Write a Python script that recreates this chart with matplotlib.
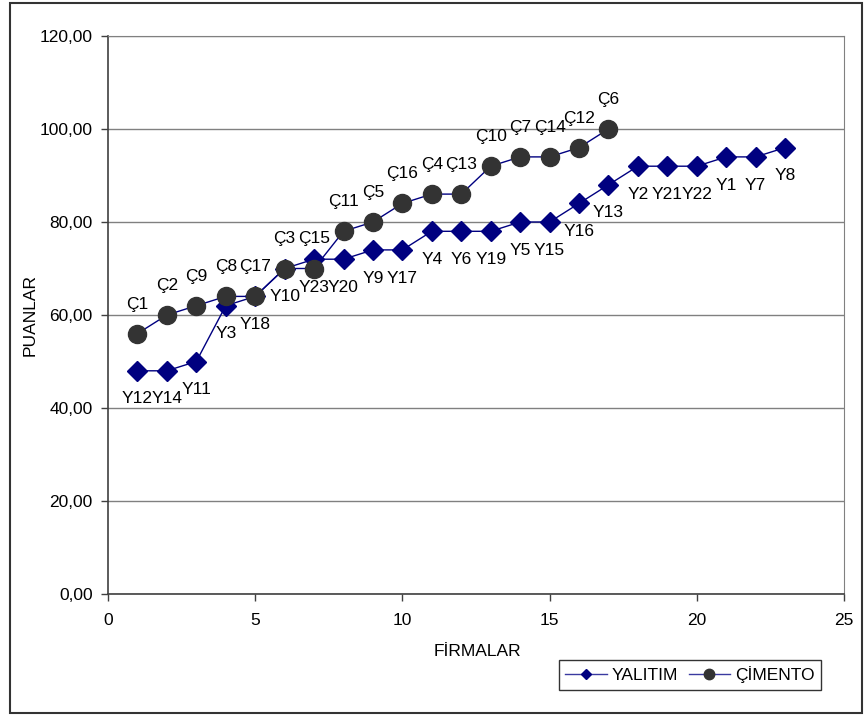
import matplotlib
matplotlib.use("Agg")
import matplotlib.pyplot as plt
from matplotlib.patches import Rectangle
from matplotlib.lines import Line2D

plt.rcParams["font.family"] = ["Liberation Sans", "DejaVu Sans"]

# ── data ──────────────────────────────────────────────────────────────
yalitim_x = list(range(1, 24))
yalitim_y = [48, 48, 50, 62, 64, 70, 72, 72, 74, 74, 78, 78, 78,
             80, 80, 84, 88, 92, 92, 92, 94, 94, 96]
yalitim_labels = ["Y12", "Y14", "Y11", "Y3", "Y18", "Y10", "Y23", "Y20",
                  "Y9", "Y17", "Y4", "Y6", "Y19", "Y5", "Y15", "Y16",
                  "Y13", "Y2", "Y21", "Y22", "Y1", "Y7", "Y8"]

cimento_x = list(range(1, 18))
cimento_y = [56, 60, 62, 64, 64, 70, 70, 78, 80, 84, 86, 86, 92,
             94, 94, 96, 100]
cimento_labels = ["Ç1", "Ç2", "Ç9", "Ç8", "Ç17", "Ç3", "Ç15", "Ç11", "Ç5",
                  "Ç16", "Ç4", "Ç13", "Ç10", "Ç7", "Ç14", "Ç12", "Ç6"]

y_ticks = [0, 20, 40, 60, 80, 100, 120]
x_ticks = [0, 5, 10, 15, 20, 25]

NAVY = "#000080"
DARK = "#333333"
FS = 12.5

W, H = 864, 716
fig = plt.figure(figsize=(W / 100, H / 100), dpi=100)
ax = fig.add_axes([108 / W, 1 - 594 / H, (844 - 108) / W, (594 - 36) / H])

ax.plot(yalitim_x, yalitim_y, color=NAVY, lw=1.0, marker="D", ms=10,
        mfc=NAVY, mec=NAVY, zorder=3)
ax.plot(cimento_x, cimento_y, color=NAVY, lw=1.0, marker="o", ms=13,
        mfc=DARK, mec=DARK, zorder=4)

# point names: YALITIM under the marker, ÇİMENTO above it
for x, y, t in zip(yalitim_x, yalitim_y, yalitim_labels):
    ax.annotate(t, (x, y), xytext=(0, -23.5), textcoords="offset points",
                ha="center", va="baseline", fontsize=FS, zorder=5)
for x, y, t in zip(cimento_x, cimento_y, cimento_labels):
    ax.annotate(t, (x, y), xytext=(0, 18), textcoords="offset points",
                ha="center", va="baseline", fontsize=FS, zorder=5)

ax.set_xlim(0, 25)
ax.set_ylim(0, 120)
ax.set_xticks(x_ticks)
ax.set_yticks(y_ticks)
ax.set_yticklabels([f"{v:.2f}".replace(".", ",") for v in y_ticks])
ax.tick_params(axis="both", direction="out", length=5, width=1,
               color="#404040", labelsize=FS, pad=6)
ax.tick_params(axis="x", pad=9)

ax.yaxis.grid(True, color="#808080", lw=1)
ax.set_axisbelow(True)
for side in ("left", "bottom"):
    ax.spines[side].set_color("#404040")
    ax.spines[side].set_linewidth(1.2)
ax.spines["right"].set_color("#808080")
ax.spines["top"].set_color("#808080")

fig.text(30 / W, 1 - 315 / H, "PUANLAR", rotation=90, ha="center",
         va="center", fontsize=FS)
fig.text(477 / W, 1 - 652 / H, "FİRMALAR", ha="center", va="center",
         fontsize=FS)

handles = [
    Line2D([], [], color="#3a3aa0", lw=1.0, marker="D", ms=5.5,
           mfc=NAVY, mec=NAVY),
    Line2D([], [], color="#3a3aa0", lw=1.0, marker="o", ms=7.5,
           mfc=DARK, mec=DARK),
]
leg = fig.legend(handles, ["YALITIM", "ÇİMENTO"], ncol=2,
                 loc="center", bbox_to_anchor=(690 / W, 1 - 675 / H),
                 fontsize=FS, frameon=True, fancybox=False,
                 handlelength=2.4, handletextpad=0.3, columnspacing=0.6,
                 borderpad=0.35, borderaxespad=0)
leg.get_frame().set_edgecolor("black")
leg.get_frame().set_linewidth(1.0)

# outer frame round the whole chart
fig.patches.append(Rectangle((10 / W, 1 - 713 / H), (862 - 10) / W,
                             (713 - 3) / H, transform=fig.transFigure,
                             fill=False, ec="#333333", lw=1.5))

fig.savefig("out.png", dpi=100)
